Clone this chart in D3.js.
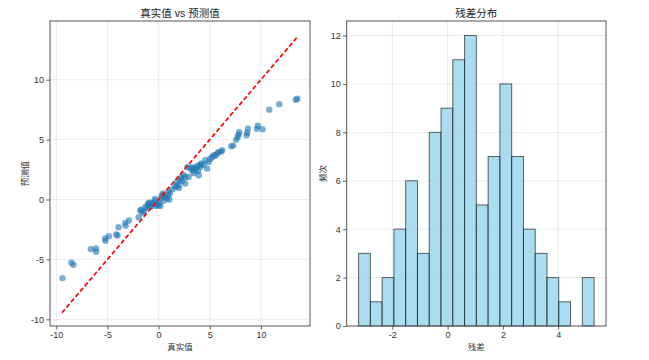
<!DOCTYPE html>
<html><head><meta charset="utf-8">
<script src="https://cdn.jsdelivr.net/npm/d3@7"></script>
<style>
html,body{margin:0;padding:0;background:#fff;}
svg{display:block;font-family:"Liberation Sans","Noto Sans CJK SC",sans-serif;}
</style></head>
<body>
<svg id="chart" width="649" height="360"></svg>
<script>
// ---------- data ----------
const trueValues = [
  -9.40,-8.53,-8.33,-6.63,-6.14,-6.10,-5.22,-5.20,-4.86,-4.15,-4.02,-3.92,-3.26,-3.23,-2.90,-1.96,
  13.57,13.40,11.80,10.82,9.70,10.15,9.60,8.73,8.67,8.60,7.88,7.81,7.72,7.58,7.29,7.10,
  -1.80,-1.70,-1.57,-1.45,-1.30,-1.05,-0.98,-0.90,-0.81,-0.75,-0.60,-0.49,-0.35,-0.30,-0.25,-0.15,
  0.00,0.07,0.17,0.33,0.43,0.50,0.65,0.82,0.90,0.98,1.05,1.10,1.64,1.70,1.80,2.00,
  2.20,2.30,2.45,2.60,2.62,2.80,2.94,3.10,3.20,3.30,3.45,3.50,3.76,3.92,3.85,4.09,
  4.20,4.40,4.58,4.74,4.90,5.05,5.23,5.40,5.55,5.72,5.85,6.12,6.21,1.35,1.95,0.25,
  3.65,4.00,-1.10,2.10
];
const predValues = [
  -6.56,-5.28,-5.45,-4.14,-4.09,-4.36,-3.25,-3.45,-3.06,-2.92,-3.00,-2.31,-1.95,-2.20,-1.75,-1.48,
  8.42,8.33,7.96,7.50,6.15,5.87,5.90,5.92,5.58,5.36,5.62,5.40,5.20,4.98,4.50,4.44,
  -0.92,-0.86,-1.10,-1.00,-0.62,-0.40,-0.30,-0.55,-0.25,-0.60,-0.35,-0.33,0.05,-0.10,-0.55,-0.40,
  -0.47,-0.30,-0.55,0.36,0.50,-0.10,0.20,0.08,0.36,0.70,0.00,0.50,1.05,1.15,1.47,0.95,
  1.83,1.55,2.03,1.33,1.88,2.70,1.88,2.58,2.70,2.40,2.20,2.65,2.78,2.03,2.40,2.72,
  3.00,2.90,3.28,2.58,3.14,3.40,3.55,3.70,3.65,3.83,3.94,4.00,4.11,0.85,1.20,0.10,
  2.50,2.90,-0.70,1.65
];
const idealLine = [-9.45, 13.6];
const binEdges = [-3.22,-2.794,-2.368,-1.942,-1.516,-1.09,-0.664,-0.238,0.188,0.614,1.04,
                  1.466,1.892,2.318,2.744,3.17,3.596,4.022,4.448,4.874,5.30];
const binCounts = [3,1,2,4,6,3,8,9,11,12,5,7,10,7,4,3,2,1,0,2];
const leftTicks = [-10,-5,0,5,10];
const histXTicks = [-2,0,2,4];
const histYTicks = [0,2,4,6,8,10,12];

// ---------- layout ----------
const svg = d3.select("#chart");
const yTop = 21, yBot = 326;
const L = {x0:50, x1:310}, R = {x0:346.7, x1:606};
const fsTick = 9, fsLab = 8.5, fsTitle = 10.5;

const xL = d3.scaleLinear().domain([-10.62, 14.8]).range([L.x0, L.x1]);
const yL = d3.scaleLinear().domain([-10.56, 14.9]).range([yBot, yTop]);
const xR = d3.scaleLinear().domain([-3.65, 5.73]).range([R.x0, R.x1]);
const yR = d3.scaleLinear().domain([0, 12.6]).range([yBot, yTop]);

function grid(g, xs, ys, xv, yv, box){
  g.selectAll(".gx").data(xv).join("line").attr("class","gx")
    .attr("x1", d=>xs(d)).attr("x2", d=>xs(d)).attr("y1", yTop).attr("y2", yBot)
    .attr("stroke", "#b0b0b0").attr("stroke-opacity", 0.3).attr("stroke-width", 0.8);
  g.selectAll(".gy").data(yv).join("line").attr("class","gy")
    .attr("y1", d=>ys(d)).attr("y2", d=>ys(d)).attr("x1", box.x0).attr("x2", box.x1)
    .attr("stroke", "#b0b0b0").attr("stroke-opacity", 0.3).attr("stroke-width", 0.8);
}
function axes(xs, ys, xv, yv, box, fmt){
  const gx = svg.append("g").attr("transform", `translate(0,${yBot})`)
    .call(d3.axisBottom(xs).tickValues(xv).tickSize(3.5).tickPadding(2.5).tickFormat(fmt));
  const gy = svg.append("g").attr("transform", `translate(${box.x0},0)`)
    .call(d3.axisLeft(ys).tickValues(yv).tickSize(3.5).tickPadding(2.5).tickFormat(fmt));
  [gx, gy].forEach(g=>{
    g.select(".domain").remove();
    g.selectAll("line").attr("stroke", "#333").attr("stroke-width", 0.8);
    g.selectAll("text").attr("fill", "#333").attr("font-size", fsTick)
      .attr("font-family", "Liberation Sans, Arial, sans-serif");
  });
  svg.append("rect").attr("x", box.x0).attr("y", yTop)
    .attr("width", box.x1 - box.x0).attr("height", yBot - yTop)
    .attr("fill", "none").attr("stroke", "#555").attr("stroke-width", 1);
}
const fmt = d => (d < 0 ? "-" + Math.abs(d) : String(d));

// ---------- left: scatter ----------
const gL = svg.append("g");
grid(gL, xL, yL, leftTicks, leftTicks, L);
const pts = trueValues.map((t,i)=>({t, p: predValues[i]}));
gL.selectAll("circle").data(pts).join("circle")
  .attr("cx", d=>xL(d.t)).attr("cy", d=>yL(d.p)).attr("r", 3.2)
  .attr("fill", "#1f77b4").attr("fill-opacity", 0.6);
gL.append("line")
  .attr("x1", xL(idealLine[0])).attr("y1", yL(idealLine[0]))
  .attr("x2", xL(idealLine[1])).attr("y2", yL(idealLine[1]))
  .attr("stroke", "red").attr("stroke-width", 1.7).attr("stroke-dasharray", "4.5,2.5");
axes(xL, yL, leftTicks, leftTicks, L, fmt);
svg.append("text").attr("x", (L.x0+L.x1)/2).attr("y", 16.5).attr("text-anchor","middle")
  .attr("font-size", fsTitle).attr("fill","#222").text("真实值 vs 预测值");
svg.append("text").attr("x", (L.x0+L.x1)/2).attr("y", 350).attr("text-anchor","middle")
  .attr("font-size", fsLab).attr("fill","#333").text("真实值");
svg.append("text").attr("transform", `translate(28,${(yTop+yBot)/2}) rotate(-90)`)
  .attr("text-anchor","middle").attr("font-size", fsLab).attr("fill","#333").text("预测值");

// ---------- right: histogram ----------
const gR = svg.append("g");
grid(gR, xR, yR, histXTicks, histYTicks.slice(1), R);
const bins = binCounts.map((c,i)=>({x0: binEdges[i], x1: binEdges[i+1], c}));
gR.selectAll("rect").data(bins.filter(b=>b.c>0)).join("rect")
  .attr("x", d=>xR(d.x0)).attr("width", d=>xR(d.x1)-xR(d.x0))
  .attr("y", d=>yR(d.c)).attr("height", d=>yR(0)-yR(d.c))
  .attr("fill", "#87ceeb").attr("fill-opacity", 0.7)
  .attr("stroke", "#000").attr("stroke-opacity", 0.6).attr("stroke-width", 1);
axes(xR, yR, histXTicks, histYTicks, R, fmt);
svg.append("text").attr("x", (R.x0+R.x1)/2).attr("y", 16.5).attr("text-anchor","middle")
  .attr("font-size", fsTitle).attr("fill","#222").text("残差分布");
svg.append("text").attr("x", (R.x0+R.x1)/2).attr("y", 350).attr("text-anchor","middle")
  .attr("font-size", fsLab).attr("fill","#333").text("残差");
svg.append("text").attr("transform", `translate(326,${(yTop+yBot)/2}) rotate(-90)`)
  .attr("text-anchor","middle").attr("font-size", fsLab).attr("fill","#333").text("频次");
</script>
</body></html>
